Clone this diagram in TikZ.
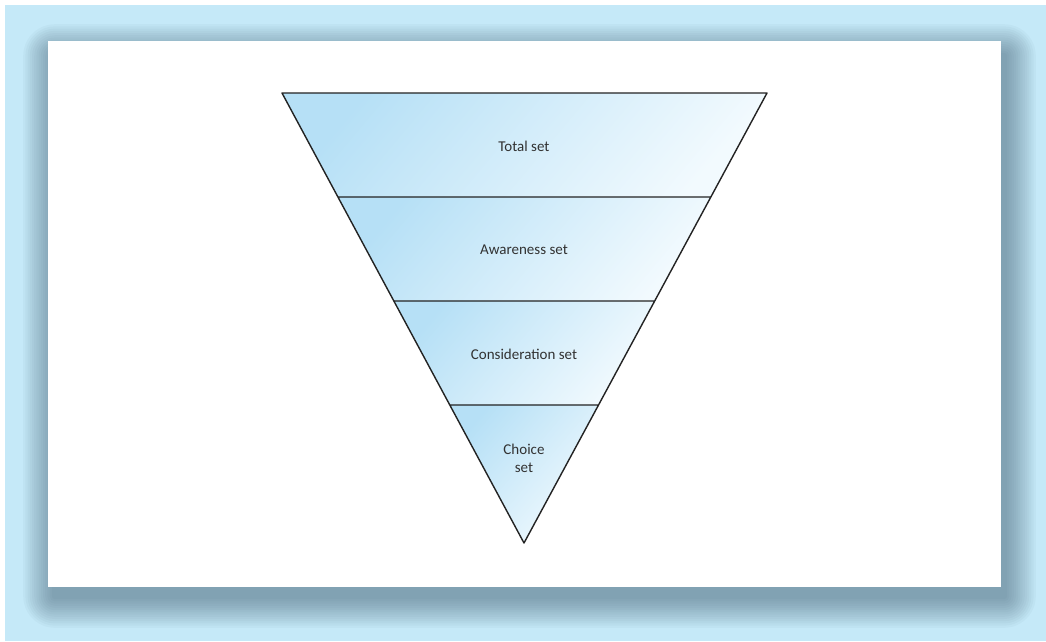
\documentclass[tikz,border=0pt]{standalone}
\usepackage{fontspec}
\setmainfont{Carlito}
\usetikzlibrary{calc}
\definecolor{pageblue}{RGB}{197,233,248}
\definecolor{shadeblue}{RGB}{40,66,86}
\definecolor{funblue}{RGB}{182,224,246}
\definecolor{funwhite}{RGB}{242,250,254}
\definecolor{edgegrey}{RGB}{35,35,35}
\definecolor{labelgrey}{RGB}{50,50,50}
\tikzset{
  band/.style={top color=funblue,bottom color=funwhite,shading angle=50},
  edge/.style={draw=edgegrey,line width=1.4pt},
  setlabel/.style={text=labelgrey,align=center,inner sep=0pt},
}
\begin{document}
\begin{tikzpicture}[x=1pt,y=-1pt,line join=round,line cap=round,font=\fontsize{15}{18}\selectfont]
  \useasboundingbox (0,0) rectangle (1046,641);
  \fill[pageblue] (5,5) rectangle (1046,641);
  % soft shadow under the panel
  \foreach \i in {1,...,14}{
    \fill[shadeblue,opacity=0.035,rounded corners=2.2*\i+1]
      (54-2.2*\i,55-2.2*\i) rectangle (1005+2.2*\i,597+2.2*\i);
  }
  \fill[white] (48,41) rectangle (1001,587);
  \path
    (282,93) coordinate (TL)
    (767,93) coordinate (TR)
    (524,543) coordinate (O)
    ;
  % cut points on both sides
  \foreach \n/\f in {1/0.2311,2/0.4622,3/0.6933}{
    \path ($(TL)!\f!(O)$) coordinate (L\n) ($(TR)!\f!(O)$) coordinate (R\n);
  }
  \shade[band] (TL)--(TR)--(R1)--(L1)--cycle;
  \shade[band] (L1)--(R1)--(R2)--(L2)--cycle;
  \shade[band] (L2)--(R2)--(R3)--(L3)--cycle;
  \shade[band] (L3)--(R3)--(O)--cycle;
  \draw[edge] (TL)--(TR)--(O)--cycle (L1)--(R1) (L2)--(R2) (L3)--(R3);
  \node[setlabel] (total) at (524,146) {Total set};
  \node[setlabel] (aware) at (524,250) {Awareness set};
  \node[setlabel] (consid) at (524,354) {Consideration set};
  \node[setlabel] (choice) at (524,458) {Choice\\set};
\end{tikzpicture}
\end{document}
